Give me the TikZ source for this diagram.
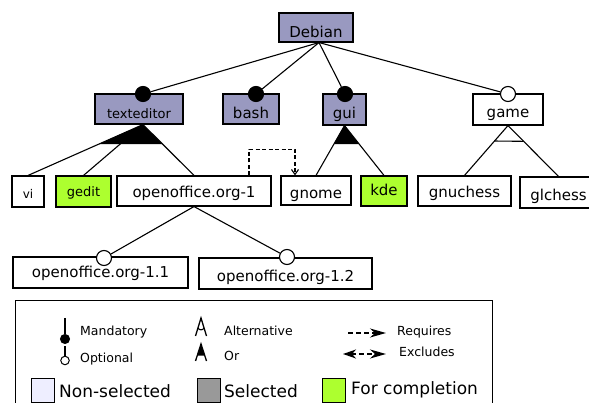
\documentclass[tikz,border=0pt]{standalone}
\usepackage{fontspec}
\setmainfont{DejaVu Sans}
\usetikzlibrary{calc,arrows.meta}
\definecolor{selfill}{RGB}{153,153,192}
\definecolor{compl}{RGB}{173,255,47}
\definecolor{nonsel}{RGB}{238,238,255}
\definecolor{selgray}{RGB}{153,153,153}
\tikzset{
  ln/.style={line width=1.1pt, draw=black},
  feat/.style={draw=black, line width=1.1pt, inner sep=0pt, fill=white,
    font=\fontsize{15}{18}\selectfont, text depth=0pt},
  fb/.style={text height=#1},
  bx/.style n args={2}{minimum width=#1, minimum height=#2},
  small/.style={font=\fontsize{13}{15}\selectfont},
  mand/.style={circle, draw=black, line width=1.1pt, fill=black, minimum size=15pt, inner sep=0pt},
  opt/.style={mand, fill=white},
  lgt/.style={inner sep=0pt, font=\fontsize{12.5}{15}\selectfont, anchor=base west},
  lgbig/.style={inner sep=0pt, font=\fontsize{17}{20}\selectfont, anchor=base west},
  swatch/.style={draw=black, line width=1.1pt, minimum width=23pt, minimum height=24pt, inner sep=0pt, anchor=north west},
  reqline/.style={ln, dash pattern=on 4pt off 2.5pt},
  lgarrow/.style={line width=1.6pt, dash pattern=on 5pt off 3pt},
  bigtip/.tip={Stealth[length=16pt,width=9pt,inset=5pt]},
  lefttip/.tip={Stealth[length=13pt,width=9pt,inset=4pt]}
}
\begin{document}
\begin{tikzpicture}[x=1pt,y=-1pt]
\clip (0,0) rectangle (589,403);
\fill[white] (0,0) rectangle (589,403);

% features
\node[feat, fill=selfill, bx={74pt}{29pt}, fb=21pt] (Debian) at (316,27.5) {Debian};
\node[feat, fill=selfill, small, bx={88pt}{30pt}, fb=20pt] (texteditor) at (139,109) {texteditor};
\node[feat, fill=selfill, bx={56pt}{30pt}, fb=20pt] (bash) at (251,109) {bash};
\node[feat, fill=selfill, bx={43pt}{31pt}, fb=18pt] (gui) at (344.5,109.5) {gui};
\node[feat, bx={70pt}{31pt}, fb=17pt] (game) at (508,109.5) {game};

\node[feat, font=\fontsize{12}{14}\selectfont, bx={32pt}{31pt}, fb=15pt] (vi) at (28,191.5) {vi};
\node[feat, fill=compl, small, bx={55pt}{31pt}, fb=10pt] (gedit) at (83.5,191.5) {gedit};
\node[feat, bx={154pt}{30pt}, fb=14pt] (oo1) at (194,191) {openoffice.org-1};
\node[feat, bx={70pt}{29pt}, fb=15.6pt] (gnome) at (316,190.5) {gnome};
\node[feat, fill=compl, bx={46pt}{30pt}, fb=10pt] (kde) at (384,191) {kde};
\node[feat, bx={93pt}{30pt}, fb=14pt] (gnuchess) at (464.5,191) {gnuchess};
\node[feat, bx={77pt}{31pt}, fb=16pt] (glchess) at (558.5,192.5) {glchess};

\node[feat, bx={175pt}{31pt}, fb=11pt] (oo11) at (100.5,272.5) {openoffice.org-1.1};
\node[feat, bx={173pt}{31pt}, fb=16pt] (oo12) at (285.5,273.5) {openoffice.org-1.2};

% circles
\node[mand] (cte) at (143,94) {};
\node[mand] (cbash) at (256,94) {};
\node[mand] (cgui) at (345,94) {};
\node[opt] (cgame) at (508,94) {};
\node[opt] (coo11) at (104,258) {};
\node[opt] (coo12) at (287,257) {};

\coordinate (dtop) at ([xshift=3pt]Debian.south);
\draw[ln] (dtop) -- (cte);
\draw[ln] (dtop) -- (cbash);
\draw[ln] (dtop) -- (cgui);
\draw[ln] (dtop) -- (cgame);

% or group texteditor
\coordinate (teA) at ([xshift=4pt]texteditor.south);
\fill ($(teA)!0.385!(vi.north)$) -- (teA) -- ($(teA)!0.385!(oo1.north)$) -- cycle;
\draw[ln] (teA) -- (vi.north);
\draw[ln] (teA) -- (gedit.north);
\draw[ln] (teA) -- (oo1.north);

% or group gui
\coordinate (guiA) at (gui.south);
\fill ($(guiA)!0.37!(gnome.north)$) -- (guiA) -- ($(guiA)!0.37!(kde.north)$) -- cycle;
\draw[ln] (guiA) -- (gnome.north);
\draw[ln] (guiA) -- (kde.north);

% alternative group game
\coordinate (gameA) at (game.south);
\draw[ln] (gameA) -- (gnuchess.north);
\draw[ln] (gameA) -- (glchess.north);
\draw[ln] ($(gameA)!0.31!(gnuchess.north)$) -- ($(gameA)!0.31!(glchess.north)$);

% optional children of openoffice
\draw[ln] (oo1.south) -- (coo11);
\draw[ln] (oo1.south) -- (coo12);

% requires
\coordinate (rqs) at ([xshift=55pt]oo1.north);
\coordinate (rqe) at ([xshift=-21pt]gnome.north);
\draw[reqline, -{Straight Barb[length=5pt,width=7pt]}] (rqs) |- ($(rqe)+(0,-26)$) -- (rqe);

% legend
\node[draw=black, line width=1.1pt, minimum width=477pt, minimum height=140pt, inner sep=0pt, anchor=north west] (legend) at (15,300) {};

\coordinate (mtop) at (65,318);
\node[circle, draw=black, line width=1pt, fill=black, minimum size=9pt, inner sep=0pt] (lmc) at (65,339) {};
\draw[ln] (mtop) -- (lmc);
\coordinate (otop) at (65,346);
\node[circle, draw=black, line width=1pt, fill=white, minimum size=8.5pt, inner sep=0pt] (loc) at (65,360.5) {};
\draw[ln] (otop) -- (loc);
\node[lgt] (tmand) at (80,335) {Mandatory};
\node[lgt] (topt) at (80,362.5) {Optional};

% alternative symbol
\draw[line width=1.3pt] (195.5,336) -- (201,318) -- (206.5,336);
\draw[line width=1.1pt] (197.8,328) .. controls (200,330.5) and (202,330.5) .. (204.2,328);
% or symbol
\fill (201,344) -- (197.3,355.5) -- (204.7,355.5) -- cycle;
\draw[line width=1.3pt] (195.5,361) -- (201,344) -- (206.5,361);
\node[lgt] (talt) at (224,335.5) {Alternative};
\node[lgt] (tor) at (224,360.5) {Or};

% requires / excludes
\coordinate (rq1) at (348,333);
\coordinate (rq2) at (386,333);
\draw[lgarrow, -{bigtip}] (rq1) -- (rq2);
\coordinate (ex1) at (343,354);
\coordinate (ex2) at (386,354);
\draw[lgarrow, {lefttip}-{bigtip}] (ex1) -- (ex2);
\node[lgt] (treq) at (397,335.5) {Requires};
\node[lgt] (texc) at (399,356.5) {Excludes};

% swatches
\node[swatch, fill=nonsel] (snon) at (31,378) {};
\node[lgbig] (tnon) at (59,397.5) {Non-selected};
\node[swatch, fill=selgray] (ssel) at (197,378) {};
\node[lgbig] (tsel) at (224,397.5) {Selected};
\node[swatch, fill=compl] (scomp) at (322,377.5) {};
\node[lgbig] (tcomp) at (351,394.5) {For completion};
\end{tikzpicture}
\end{document}
